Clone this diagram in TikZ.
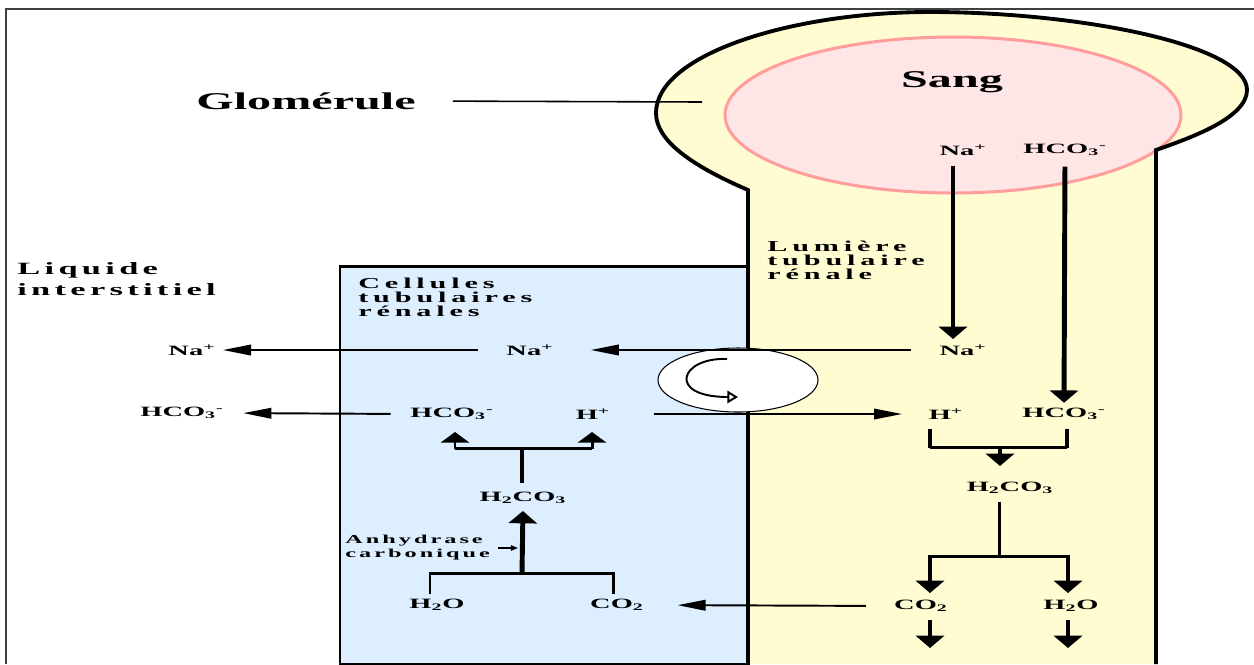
\documentclass[tikz,border=0pt]{standalone}
\usepackage{fontspec}
\setmainfont{Liberation Serif}
\newfontfamily\wide[FakeStretch=2]{Liberation Serif}
\newfontfamily\spacedA[FakeStretch=2,LetterSpace=25]{Liberation Serif}
\newfontfamily\spacedB[FakeStretch=2,LetterSpace=32]{Liberation Serif}
\usetikzlibrary{arrows.meta}

\definecolor{lumen}{HTML}{FFFCD2}
\definecolor{cellblue}{HTML}{DDEEFF}
\definecolor{blood}{HTML}{FFE6E6}
\definecolor{bloodline}{HTML}{FF9C9C}

\tikzset{
  ion/.style={font=\wide\fontsize{8.1}{9}\selectfont\bfseries, inner sep=1pt},
  big/.style={font=\wide\fontsize{13.7}{15}\selectfont\bfseries, inner sep=1pt},
  region/.style={anchor=north west, align=left, inner sep=0pt,
    font=\spacedB\fontsize{8.6}{8}\selectfont\bfseries},
  flow/.style={line width=1.1pt, -{Triangle[length=16pt,width=6pt]}},
  push/.style={line width=2.8pt, -{Triangle[length=7pt,width=16pt]}},
  bar/.style={line width=1.7pt},
  wall/.style={line width=2.2pt}
}

\begin{document}
\begin{tikzpicture}[x=0.02cm,y=-0.02cm]
  \useasboundingbox (0,0) rectangle (1254,664);
  % frame
  \draw[line width=0.9pt, black!75] (6,664) -- (6,9) -- (1254,9);

  % glomerule and tubule
  \fill[lumen] (748,664) -- (748,190)
    .. controls (690,165) and (656,140) .. (656,113)
    .. controls (656,55) and (790,12) .. (930,12)
    .. controls (1080,12) and (1247,45) .. (1247,90)
    .. controls (1247,118) and (1190,138) .. (1156,150)
    -- (1156,664) -- cycle;
  \filldraw[fill=blood, draw=bloodline, line width=1.7pt] (953,115) ellipse (228 and 78);
  \filldraw[fill=cellblue, line width=1.7pt] (340,266) rectangle (748,664);
  \draw[wall] (748,664) -- (748,190)
    .. controls (690,165) and (656,140) .. (656,113)
    .. controls (656,55) and (790,12) .. (930,12)
    .. controls (1080,12) and (1247,45) .. (1247,90)
    .. controls (1247,118) and (1190,138) .. (1156,150)
    -- (1156,664);

  % titles
  \node[big] (glom) at (306,101) {Glomérule};
  \coordinate (glomtip) at (702,102);
  \draw[line width=0.9pt, shorten <=20pt] (glom.east) -- (glomtip);
  \node[big] (sang) at (952,82) {Sang};
  \node[region, font=\spacedA\fontsize{9.8}{12}\selectfont\bfseries] (liq) at (17,262) {Liquide\\interstitiel};
  \node[region] (cell) at (358,278) {Cellules\\tubulaires\\rénales};
  \node[region] (lum) at (767,241) {Lumière\\tubulaire\\rénale};
  \node[region, font=\spacedA\fontsize{6.9}{8}\selectfont\bfseries] (anh) at (345,535) {Anhydrase\\carbonique};

  % ions
  \node[ion] (naS) at (963,150) {Na\textsuperscript{+}};
  \node[ion] (hcS) at (1065,150) {HCO\textsubscript{3}\textsuperscript{-}};
  \node[ion] (naL) at (963,350) {Na\textsuperscript{+}};
  \node[ion] (hL) at (946,414) {H\textsuperscript{+}};
  \node[ion] (hcL) at (1064,414) {HCO\textsubscript{3}\textsuperscript{-}};
  \node[ion] (h2L) at (1010,488) {H\textsubscript{2}CO\textsubscript{3}};
  \node[ion] (co2L) at (921,606) {CO\textsubscript{2}};
  \node[ion] (h2oL) at (1071,606) {H\textsubscript{2}O};
  \node[ion] (naC) at (530,350) {Na\textsuperscript{+}};
  \node[ion] (hcC) at (452,414) {HCO\textsubscript{3}\textsuperscript{-}};
  \node[ion] (hC) at (593,414) {H\textsuperscript{+}};
  \node[ion] (h2C) at (523,498) {H\textsubscript{2}CO\textsubscript{3}};
  \node[ion] (h2oC) at (437,605) {H\textsubscript{2}O};
  \node[ion] (co2C) at (617,605) {CO\textsubscript{2}};
  \node[ion] (naI) at (192,350) {Na\textsuperscript{+}};
  \node[ion] (hcI) at (182,413) {HCO\textsubscript{3}\textsuperscript{-}};

  % blood to lumen
  \draw[push, shorten <=5pt, shorten >=2pt] ([xshift=-0.2cm]naS.south) -- ([xshift=-0.2cm]naL.north);
  \draw[push, shorten <=5pt, shorten >=2pt] (hcS.south) -- (hcL.north);

  % exchanger
  \filldraw[fill=white, line width=0.6pt] (738,380) ellipse (80 and 32);
  \draw[line width=1.1pt, -{Triangle[open,length=6pt,width=7pt]}]
    (727,359) .. controls (680,357) and (666,397) .. (738,397);

  % horizontal transport
  \draw[flow, shorten <=15pt, shorten >=20pt] (naL.west) -- (naC.east);
  \draw[flow, shorten <=15pt, shorten >=3pt] (naC.west) -- (naI.east);
  \draw[flow, shorten <=10pt, shorten >=10pt] (hcC.west) -- (hcI.east);
  \draw[flow, shorten <=24pt, shorten >=14pt] (hC.east) -- (hL.west);
  \draw[flow, shorten <=15pt, shorten >=18pt] (co2L.west) -- (co2C.east);

  % lumen reactions
  \draw[bar] (930,447) -- (1067,447);
  \draw[push, -] (930,429) -- (930,448) (1067,429) -- (1067,448);
  \draw[push] (1000,446) -- (1000,466);
  \draw[bar] (999,502) -- (999,556);
  \draw[bar] (929,556) -- (1069,556);
  \draw[push] (930,555) -- (930,593);
  \draw[push] (1068,555) -- (1068,593);
  \draw[push] (930,620) -- (930,648);
  \draw[push] (1068,620) -- (1068,648);

  % cell reactions
  \draw[bar] (455,448) -- (592,448);
  \draw[bar, -{Triangle[length=6pt,width=16pt]}] (455,449) -- (455,432);
  \draw[bar, -{Triangle[length=6pt,width=16pt]}] (592,449) -- (592,432);
  \draw[push, -] (522,448) -- (522,483);
  \draw[push, shorten >=3pt] (522,574) -- (h2C.south);
  \draw[bar] (430,594) |- (613,573) -- (613,594);
  \draw[line width=0.8pt, -{Triangle[length=4pt,width=3pt]}] (498,548) -- (518,548);
\end{tikzpicture}
\end{document}
